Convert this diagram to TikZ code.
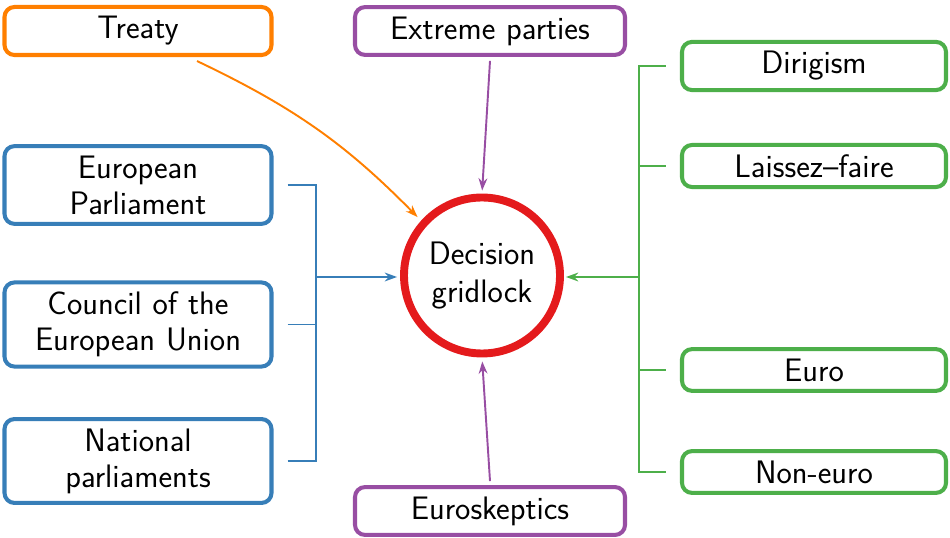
\documentclass[tikz,border=0pt]{standalone}
\usepackage{xcolor}
\usepackage{tikz}
\usetikzlibrary{arrows.meta}
\renewcommand{\familydefault}{\sfdefault}

\definecolor{treatyorange}{HTML}{FF7F00}
\definecolor{partypurple}{HTML}{984EA3}
\definecolor{instblue}{HTML}{377EB8}
\definecolor{econgreen}{HTML}{4DAF4A}
\definecolor{gridred}{HTML}{E41A1C}

\begin{document}
\begin{tikzpicture}[
    box/.style={draw, line width=2.3pt, rounded corners=0.2cm, fill=white,
        align=center, text width=5.14cm, inner xsep=0.1cm, inner ysep=5.4pt,
        font=\fontsize{18.5}{20.5}\selectfont},
    link/.style={line width=1.1pt},
    feed/.style={line width=1.1pt, -{Stealth[length=7pt,width=5pt]}}
]
\useasboundingbox (0,0) rectangle (19,10.74);

% centre
\node[circle, draw=gridred, line width=4.5pt, minimum size=3.12cm, align=center,
    font=\fontsize{18.5}{22}\selectfont] (dec) at (9.64,5.23) {Decision\\gridlock};

% left side
\node[box, draw=treatyorange] (treaty) at (2.76,10.12) {Treaty};
\node[box, draw=instblue] (ep) at (2.76,7.04) {European\\Parliament};
\node[box, draw=instblue] (council) at (2.76,4.25) {Council of the\\European Union};
\node[box, draw=instblue] (national) at (2.76,1.52) {National\\parliaments};

% top and bottom
\node[box, draw=partypurple, text width=5.2cm] (extreme) at (9.8,10.12) {Extreme parties};
\node[box, draw=partypurple, text width=5.2cm] (eurosk) at (9.8,0.52) {Euroskeptics};

% right side
\node[box, draw=econgreen, text width=5.08cm] (dirigism) at (16.28,9.42) {Dirigism};
\node[box, draw=econgreen, text width=5.08cm] (laissez) at (16.28,7.42) {Laissez--faire};
\node[box, draw=econgreen, text width=5.08cm] (euro) at (16.28,3.34) {Euro};
\node[box, draw=econgreen, text width=5.08cm] (noneuro) at (16.28,1.30) {Non-euro};

\coordinate (lbus) at (6.32,5.2);
\coordinate (rbus) at (12.78,5.2);

% institutions
\draw[link, instblue] ([xshift=0.28cm]ep.east) -| (lbus);
\draw[link, instblue] ([xshift=0.28cm]national.east) -| (lbus);
\draw[link, instblue] ([xshift=0.28cm]council.east) -- (council.east -| lbus);
\draw[feed, instblue, shorten >=0.06cm] (lbus) -- (lbus -| dec.west);

% economic views
\draw[link, econgreen] ([xshift=-0.28cm]dirigism.west) -| (rbus);
\draw[link, econgreen] ([xshift=-0.28cm]noneuro.west) -| (rbus);
\draw[link, econgreen] ([xshift=-0.28cm]laissez.west) -- (laissez.west -| rbus);
\draw[link, econgreen] ([xshift=-0.28cm]euro.west) -- (euro.west -| rbus);
\draw[feed, econgreen, shorten >=0.04cm] (rbus) -- (rbus -| dec.east);

\draw[feed, treatyorange, shorten >=0.1cm] ([xshift=1.18cm,yshift=-0.08cm]treaty.south)
    to[bend left=10] (dec.138);
\draw[feed, partypurple, shorten >=0.06cm] ([yshift=-0.08cm]extreme.south) -- (dec.north);
\draw[feed, partypurple, shorten >=0.08cm] ([yshift=0.08cm]eurosk.north) -- (dec.south);
\end{tikzpicture}
\end{document}
